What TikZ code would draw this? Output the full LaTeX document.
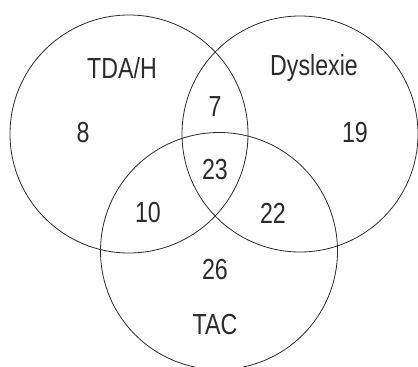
\documentclass[tikz,border=0pt]{standalone}
\usepackage{fontspec}
\setmainfont[FakeStretch=0.8]{Liberation Sans}
\usepackage{tikz}
\usetikzlibrary{positioning}
\usepackage{xcolor}
\definecolor{inkgray}{HTML}{2B2B2B}

\begin{document}
\begin{tikzpicture}[x=1pt, y=-1pt, font=\fontsize{29}{32}\selectfont, text=inkgray]
        \useasboundingbox (0,0) rectangle (418,367);

        % Sets
        \draw[inkgray, line width=0.8pt] (129,134) circle (119);
        \draw[inkgray, line width=0.8pt] (300,134) circle (118);
        \draw[inkgray, line width=0.8pt] (219,251) circle (118.5);

        % Set names
        \node (tdah) at (122,68) {TDA/H};
        \node (dys) at (314,68) {Dyslexie};
        \node (tac) at (215,325) {TAC};

        % Counts
        \node (onlyTdah) at (83,133) {8};
        \node (tdahDys) at (215,107) {7};
        \node (onlyDys) at (355,133) {19};
        \node (all) at (215,170) {23};
        \node (tdahTac) at (148,213) {10};
        \node (dysTac) at (273,213) {22};
        \node (onlyTac) at (215,270) {26};
    \end{tikzpicture}
\end{document}
